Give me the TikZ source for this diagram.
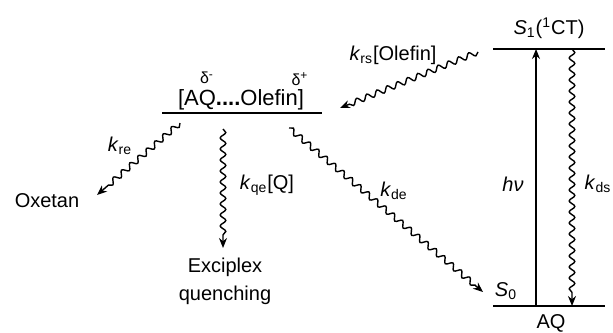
\documentclass[tikz,border=0pt]{standalone}
\usepackage{fontspec}
\setmainfont{Liberation Sans}
\usetikzlibrary{arrows.meta,decorations.pathmorphing}
\newcommand{\rk}[1]{\textit{k}\textsubscript{#1}}

\begin{document}
\begin{tikzpicture}[
  x=0.5pt,y=-0.5pt,
  >={Stealth[length=5pt,width=4pt]},
  level/.style={line width=1pt},
  lbl/.style={inner sep=1pt,font=\fontsize{10}{12}\selectfont},
  sml/.style={inner sep=0.5pt,font=\fontsize{8}{9}\selectfont},
  wavy/.style={->,line width=0.7pt,decorate,
    decoration={snake,amplitude=1.4pt,segment length=5.5pt,post length=5pt}}
]
\useasboundingbox (0,0) rectangle (613,332);
% AQ levels
\coordinate (s1l) at (493,49);
\coordinate (s1r) at (605,49);
\coordinate (s0l) at (493,306);
\coordinate (s0r) at (605,306);
\draw[level] (s1l) -- (s1r);
\draw[level] (s0l) -- (s0r);
\node[lbl] (s1) at (549,28) {\textit{S}\textsubscript{1}(\textsuperscript{1}CT)};
\node[lbl] (s0) at (506,291) {\textit{S}\textsubscript{0}};
\node[lbl] (aq) at (551,323) {AQ};
% absorption and decay
\coordinate (hvb) at (536,306);
\coordinate (hvt) at (536,49);
\coordinate (dst) at (572,49);
\coordinate (dsb) at (572,306);
\draw[->,line width=0.7pt] (hvb) -- (hvt);
\draw[wavy] (dst) -- (dsb);
\node[lbl] (hv) at (513,184) {\textit{hν}};
\node[lbl] (kds) at (598,184) {\rk{ds}};
% exciplex level
\coordinate (exl) at (162,113);
\coordinate (exr) at (322,113);
\draw[level] (exl) -- (exr);
\node[lbl,font=\fontsize{11}{13}\selectfont] (ex) at (241,100) {[AQ\textbf{....}Olefin]};
\node[sml] (dm) at (207,78) {δ\textsuperscript{-}};
\node[sml] (dp) at (300,79) {δ\textsuperscript{+}};
% formation from S1
\coordinate (rsa) at (478,52);
\coordinate (rsb) at (340,108);
\draw[wavy] (rsa) -- (rsb);
\node[lbl] (krs) at (393,55) {\rk{rs}[Olefin]};
% exciplex channels
\node[lbl] (ox) at (47,201) {Oxetan};
\node[lbl,align=center] (eq) at (225,281) {Exciplex\\[2pt]quenching};
\coordinate (rea) at (180,123);
\coordinate (reb) at (97,195);
\draw[wavy] (rea) -- (reb);
\node[lbl] (kre) at (120,146) {\rk{re}};
\coordinate (qea) at (223,129);
\coordinate (qeb) at (223,248);
\draw[wavy] (qea) -- (qeb);
\node[lbl] (kqe) at (267,185) {\rk{qe}[Q]};
\coordinate (dea) at (289,128);
\coordinate (deb) at (483,292);
\draw[wavy] (dea) -- (deb);
\node[lbl] (kde) at (394,191) {\rk{de}};
\end{tikzpicture}
\end{document}
